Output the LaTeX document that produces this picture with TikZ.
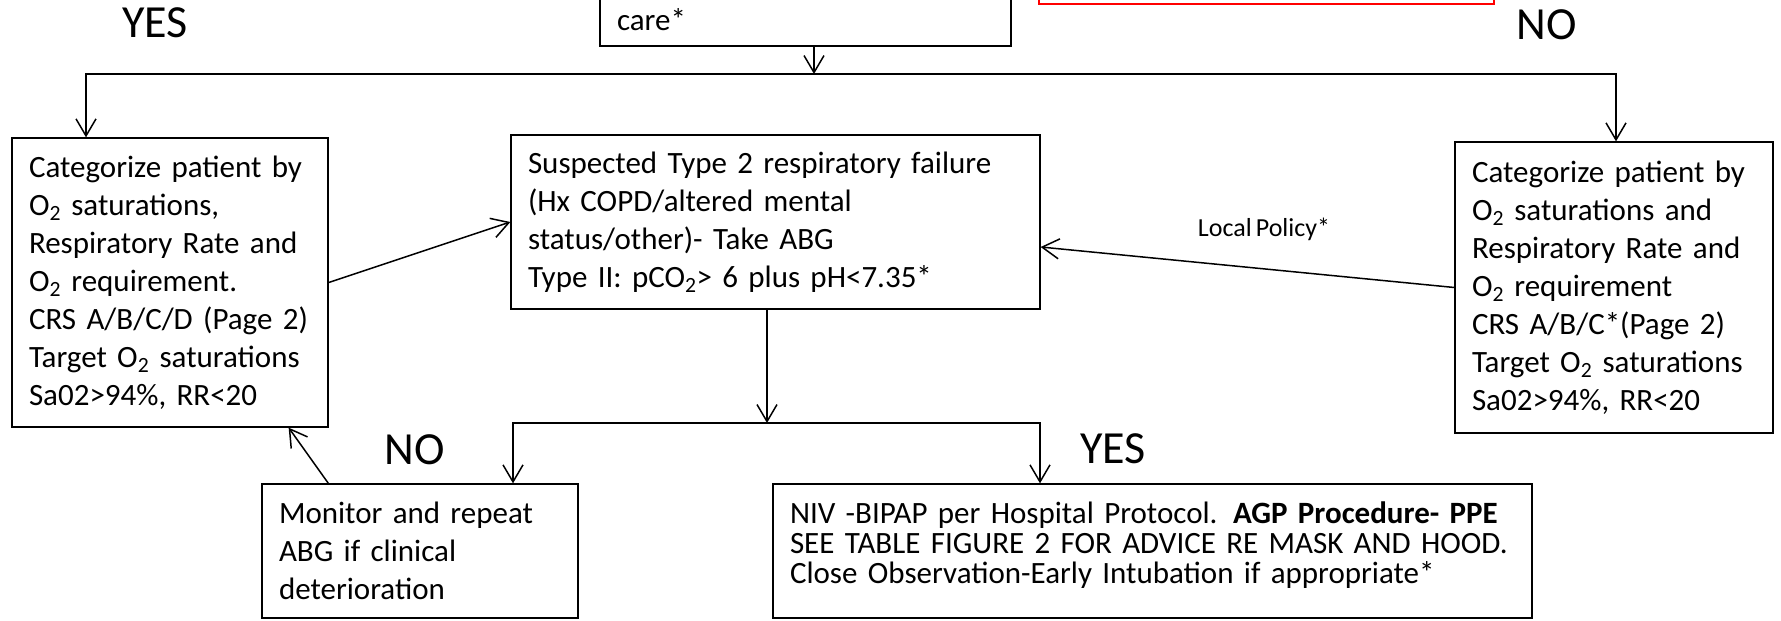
\documentclass[tikz,border=0pt]{standalone}
\usepackage{fontspec}
\setmainfont{Carlito}[WordSpace=0.7]
\usetikzlibrary{arrows.meta}

\tikzset{
  box/.style={draw, line width=1.3pt, align=left, inner xsep=17pt, inner ysep=0pt,
    font=\fontsize{31}{38}\selectfont},
  answer/.style={inner sep=0pt, font=\fontsize{46}{50}\selectfont},
}

\begin{document}
\begin{tikzpicture}[x=1pt, y=-1pt, line width=1.5pt, >={Straight Barb[length=17pt,width=20pt]}]
\useasboundingbox (0,0) rectangle (1781,621);

% boxes
\node [box, text width=377pt, minimum height=52pt] (care) at (805.5,20) {care*};
\node [box, draw=red, inner sep=0pt, minimum width=455pt, minimum height=100pt] (note) at (1266.5,-46) {};

\node [box, text width=282pt, minimum height=289pt] (catyes) at (170,282.5)
  {Categorize patient by\\ O\textsubscript{2} saturations,\\ Respiratory Rate and\\ O\textsubscript{2} requirement.\\ CRS A/B/C/D (Page 2)\\ Target O\textsubscript{2} saturations\\ Sa02>94\%, RR<20};
\node [box, text width=495pt, minimum height=174pt] (type2) at (775.5,222)
  {Suspected Type 2 respiratory failure\\ (Hx COPD/altered mental\\ status/other)- Take ABG\\ Type II: pCO\textsubscript{2}> 6 plus pH<7.35*};
\node [box, text width=284pt, minimum height=291pt] (catno) at (1614,287.5)
  {Categorize patient by\\ O\textsubscript{2} saturations and\\ Respiratory Rate and\\ O\textsubscript{2} requirement\\ CRS A/B/C*(Page 2)\\ Target O\textsubscript{2} saturations\\ Sa02>94\%, RR<20};

\node [box, text width=282pt, minimum height=134pt] (monitor) at (420,551)
  {Monitor and repeat\\ ABG if clinical\\ deterioration};
\node [box, text width=725pt, minimum height=134pt, text depth=76pt, font=\fontsize{31}{30}\selectfont] (niv) at (1152.5,551)
  {NIV -BIPAP per Hospital Protocol. \textbf{AGP Procedure- PPE}\\ SEE TABLE FIGURE 2 FOR ADVICE RE MASK AND HOOD.\\ Close Observation-Early Intubation if appropriate*};

\foreach \x/\y/\txt/\name in {155/23/YES/yestop, 1547/25/NO/notop, 415/450/NO/nobot, 1113/449/YES/yesbot}
  \node [answer] (\name) at (\x,\y) {\txt};

% top split
\coordinate (split) at (814,74);
\coordinate (yesturn) at (86,74);
\coordinate (noturn) at (1616,74);
\draw [->] (care.south -| split) -- (split);
\draw [->] (split) -- (yesturn) -- (yesturn |- catyes.north);
\draw [->] (split) -- (noturn) -- (noturn |- catno.north);

\draw [->] (catyes.east) -- (type2.west);
\draw [->] (catno.west) -- node [pos=0.46, yshift=40pt, font=\fontsize{26}{30}\selectfont] (policy) {Local Policy*} ([yshift=-25pt]type2.east);

% abg split
\coordinate (abg) at (767,423);
\coordinate (noturnb) at (513,423);
\coordinate (yesturnb) at (1040,423);
\draw [->] (type2.south -| abg) -- (abg);
\draw [->] (abg) -- (noturnb) -- (noturnb |- monitor.north);
\draw [->] (abg) -- (yesturnb) -- (yesturnb |- niv.north);

\draw [->] ([xshift=67pt]monitor.north west) -- ([xshift=-40pt]catyes.south east);
\end{tikzpicture}
\end{document}
